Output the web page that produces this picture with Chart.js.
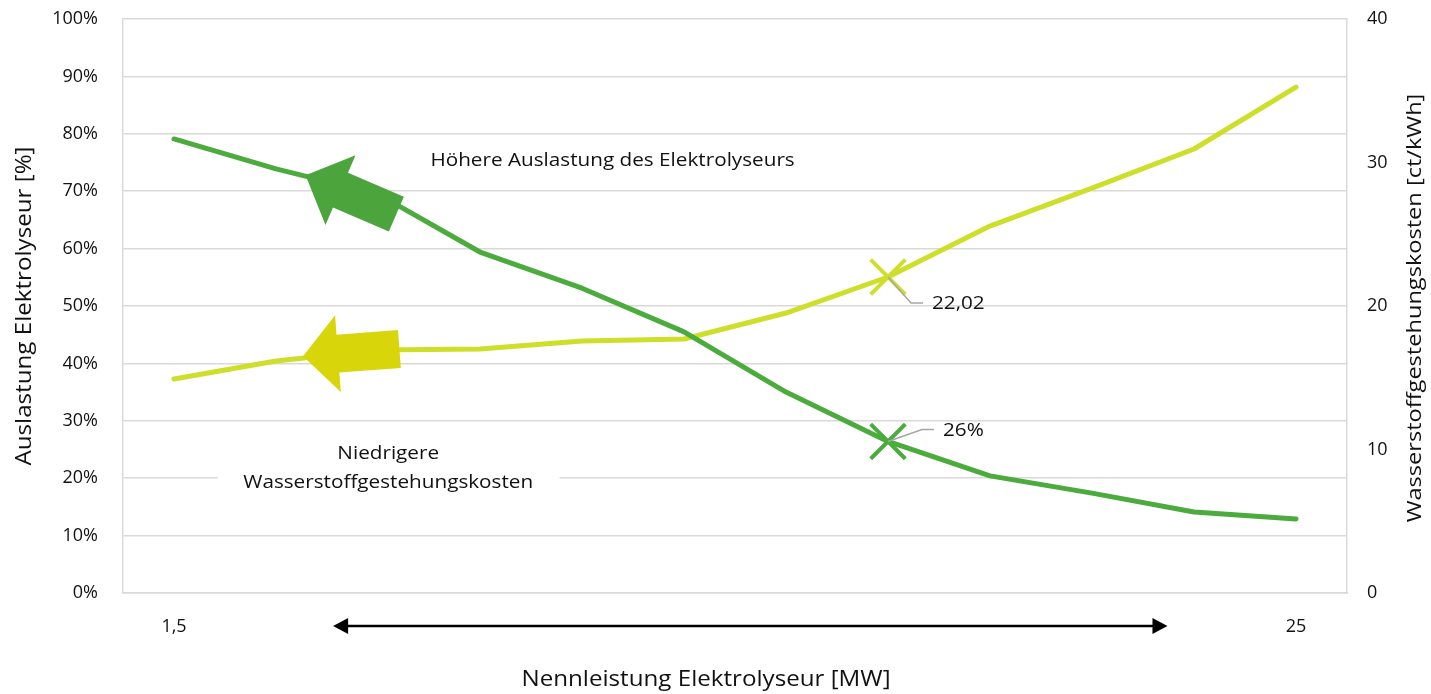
<!DOCTYPE html>
<html>
<head>
<meta charset="utf-8">
<script src="https://cdn.jsdelivr.net/npm/chart.js@4"></script>
<style>
  html, body { margin: 0; padding: 0; background: #fff; }
  #wrap { width: 1431px; height: 694px; }
</style>
</head>
<body>
<div id="wrap"><canvas id="mainChart" width="1431" height="694"></canvas></div>
<script>
// Nennleistung Elektrolyseur - only first and last are labelled
const categories = ['1,5', '', '', '', '', '', '', '', '', '', '', '25'];
// Auslastung Elektrolyseur [%] (left axis)
const auslastung = [79.1, 73.9, 69.5, 59.4, 53.1, 45.5, 35.0, 26.4, 20.4, 17.4, 14.1, 12.9];
// Wasserstoffgestehungskosten [ct/kWh] (right axis)
const kosten = [14.91, 16.17, 16.93, 17.0, 17.56, 17.70, 19.51, 22.02, 25.57, 28.22, 30.94, 35.26];
const leftTicks = [0, 10, 20, 30, 40, 50, 60, 70, 80, 90, 100];
const rightTicks = [0, 10, 20, 30, 40];
const markedIndex = 7;

const FONT = 'Open Sans';
const STRETCH = 1.15; // the reference text is a little wider than Open Sans
const GREEN = '#4bab3d';
const YELLOW = '#cddf2a';
const GRID = '#d9d9d9';
const TEXT = '#111';

function drawText(ctx, text, x, y, size, align = 'center', rot = 0) {
    ctx.save();
    ctx.translate(x, y);
    ctx.rotate(rot);
    ctx.scale(STRETCH, 1);
    ctx.font = size + 'px "' + FONT + '"';
    ctx.fillStyle = TEXT;
    ctx.textAlign = align;
    ctx.textBaseline = 'middle';
    ctx.fillText(text, 0, 0);
    ctx.restore();
}

function blockArrow(ctx, x1, y1, x2, y2, shaftHalf, headHalf, headLen, color) {
    const ang = Math.atan2(y2 - y1, x2 - x1);
    const len = Math.hypot(x2 - x1, y2 - y1);
    ctx.save();
    ctx.translate(x1, y1);
    ctx.rotate(ang);
    ctx.beginPath();
    ctx.moveTo(0, -shaftHalf);
    ctx.lineTo(len - headLen, -shaftHalf);
    ctx.lineTo(len - headLen, -headHalf);
    ctx.lineTo(len, 0);
    ctx.lineTo(len - headLen, headHalf);
    ctx.lineTo(len - headLen, shaftHalf);
    ctx.lineTo(0, shaftHalf);
    ctx.closePath();
    ctx.fillStyle = color;
    ctx.fill();
    ctx.restore();
}

// Arrows, notes, data labels and axis titles
const annotations = {
    id: 'annotations',
    afterDatasetsDraw(chart) {
        const { ctx, chartArea, scales: { x, y, y1 } } = chart;
        ctx.save();

        // white box behind the lower note
        ctx.fillStyle = '#fff';
        const bx1 = x.getPixelForValue(0.43), bx2 = x.getPixelForValue(3.78);
        const by1 = y.getPixelForValue(28.4), by2 = y.getPixelForValue(16.2);
        ctx.fillRect(bx1, by1, bx2 - bx1, by2 - by1);

        drawText(ctx, 'Höhere Auslastung des Elektrolyseurs', x.getPixelForValue(4.3), y.getPixelForValue(75.3), 18);
        drawText(ctx, 'Niedrigere', x.getPixelForValue(2.1), y.getPixelForValue(24.2), 18);
        drawText(ctx, 'Wasserstoffgestehungskosten', x.getPixelForValue(2.1), y.getPixelForValue(19.1), 18);

        // block arrows
        blockArrow(ctx, x.getPixelForValue(2.18), y.getPixelForValue(66.0),
            x.getPixelForValue(1.29), y.getPixelForValue(72.8), 19, 38, 38, '#4ba53c');
        blockArrow(ctx, x.getPixelForValue(2.21), y1.getPixelForValue(17.0),
            x.getPixelForValue(1.265), y1.getPixelForValue(16.5), 19, 38.5, 35, '#d9d50b');

        // data labels with leader lines
        const pK = chart.getDatasetMeta(1).data[markedIndex];
        const pA = chart.getDatasetMeta(0).data[markedIndex];
        ctx.strokeStyle = '#a6a6a6';
        ctx.lineWidth = 1.5;
        ctx.beginPath();
        ctx.moveTo(pK.x, pK.y);
        ctx.lineTo(pK.x + 23, pK.y + 26);
        ctx.lineTo(pK.x + 35, pK.y + 26);
        ctx.moveTo(pA.x, pA.y);
        ctx.lineTo(pA.x + 34, pA.y - 12);
        ctx.lineTo(pA.x + 46, pA.y - 12);
        ctx.stroke();
        drawText(ctx, kosten[markedIndex].toFixed(2).replace('.', ','), pK.x + 44, pK.y + 27, 18, 'left');
        drawText(ctx, Math.round(auslastung[markedIndex]) + '%', pA.x + 55, pA.y - 11, 18, 'left');

        // double arrow under the x axis
        const ay = chartArea.bottom + 33;
        const ax1 = x.getPixelForValue(1.56), ax2 = x.getPixelForValue(9.74);
        ctx.strokeStyle = '#000';
        ctx.lineWidth = 2.5;
        ctx.beginPath();
        ctx.moveTo(ax1 + 10, ay);
        ctx.lineTo(ax2 - 10, ay);
        ctx.stroke();
        ctx.fillStyle = '#000';
        ctx.beginPath();
        ctx.moveTo(ax1, ay); ctx.lineTo(ax1 + 15, ay - 8); ctx.lineTo(ax1 + 15, ay + 8); ctx.closePath();
        ctx.moveTo(ax2, ay); ctx.lineTo(ax2 - 15, ay - 8); ctx.lineTo(ax2 - 15, ay + 8); ctx.closePath();
        ctx.fill();

        // axis titles
        const midY = (chartArea.top + chartArea.bottom) / 2;
        drawText(ctx, 'Nennleistung Elektrolyseur [MW]', (chartArea.left + chartArea.right) / 2 - 29, chart.height - 14, 21);
        drawText(ctx, 'Auslastung Elektrolyseur [%]', 25, midY, 21, 'center', -Math.PI / 2);
        drawText(ctx, 'Wasserstoffgestehungskosten [ct/kWh]', chart.width - 16, midY + 2, 20.5, 'center', -Math.PI / 2);

        ctx.restore();
    }
};

const tickFont = { family: FONT, size: 18 };

// fixed axis sizes; drop the label overhang padding so the plot top stays at 19px
function fixVertical(width) {
    return s => {
        s.width = width;
        s.paddingTop = 0;
        s.paddingBottom = 0;
    };
}

const ctx = document.getElementById('mainChart').getContext('2d');
new Chart(ctx, {
    type: 'line',
    data: {
        labels: categories,
        datasets: [{
            label: 'Auslastung Elektrolyseur [%]',
            data: auslastung,
            yAxisID: 'y',
            borderColor: GREEN,
            borderWidth: 5,
            borderCapStyle: 'round',
            borderJoinStyle: 'round',
            tension: 0,
            pointStyle: 'crossRot',
            pointRadius: c => c.dataIndex === markedIndex ? 24.5 : 0,
            pointBorderWidth: 4,
            pointBorderColor: GREEN,
            pointHoverRadius: 0,
            order: 0
        }, {
            label: 'Wasserstoffgestehungskosten [ct/kWh]',
            data: kosten,
            yAxisID: 'y1',
            borderColor: YELLOW,
            borderWidth: 5,
            borderCapStyle: 'round',
            borderJoinStyle: 'round',
            tension: 0,
            pointStyle: 'crossRot',
            pointRadius: c => c.dataIndex === markedIndex ? 24.5 : 0,
            pointBorderWidth: 4,
            pointBorderColor: YELLOW,
            pointHoverRadius: 0,
            order: 1
        }]
    },
    options: {
        responsive: false,
        animation: false,
        layout: { padding: { top: 19, left: 0, right: 0, bottom: 0 } },
        plugins: {
            legend: { display: false },
            tooltip: { enabled: false }
        },
        scales: {
            x: {
                offset: true,
                grid: { display: false },
                border: { display: true, color: GRID, width: 1.5 },
                ticks: {
                    color: TEXT,
                    padding: 15,
                    maxRotation: 0,
                    autoSkip: false,
                    font: tickFont
                },
                afterFit: s => { s.height = 101; s.paddingLeft = 0; s.paddingRight = 0; }
            },
            y: {
                position: 'left',
                min: 0,
                max: 100,
                afterBuildTicks: s => { s.ticks = leftTicks.map(v => ({ value: v })); },
                grid: { color: GRID, lineWidth: 1.5, drawTicks: false },
                border: { display: true, color: GRID, width: 1.5 },
                ticks: {
                    color: TEXT,
                    padding: 25,
                    font: tickFont,
                    callback: v => v + '%'
                },
                afterFit: fixVertical(123)
            },
            y1: {
                position: 'right',
                min: 0,
                max: 40,
                afterBuildTicks: s => { s.ticks = rightTicks.map(v => ({ value: v })); },
                grid: { display: false, drawTicks: false },
                border: { display: true, color: GRID, width: 1.5 },
                ticks: {
                    color: TEXT,
                    padding: 20,
                    font: tickFont
                },
                afterFit: fixVertical(84)
            }
        }
    },
    plugins: [annotations]
});
</script>
</body>
</html>
